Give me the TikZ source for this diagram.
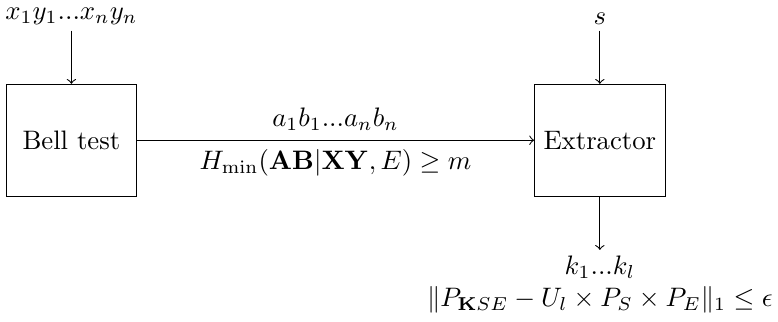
\documentclass[tikz,border=0pt]{standalone}
\usepackage{amsmath,amssymb}
\usetikzlibrary{positioning}
\begin{document}
\begin{tikzpicture}[box/.style={rectangle, draw, minimum width=1.71cm, minimum height=1.47cm}, lbl/.style={inner sep=2pt}, >=to]
        \node[box] (bell) at (0, 0) {Bell test};
        \node[box] (ext) at (6.95, 0) {Extractor};
        \node[lbl, above=0.7cm of bell] (xy) {$x_1y_1...x_ny_n$};
        \node[lbl, above=0.7cm of ext] (seed) {$s$};
        \node[lbl, below=0.7cm of ext, align=center] (key) {$k_1...k_l$\\$\|P_{\mathbf{K}SE}-U_l\times P_S\times P_E\|_1\leq\epsilon$};
        \draw[->] (xy) -- (bell);
        \draw[->] (seed) -- (ext);
        \draw[->] (bell) -- node[above] {$a_1b_1...a_nb_n$} node[below] {$H_{\min}(\mathbf{AB}|\mathbf{XY},E)\geq m$} (ext);
        \draw[->] (ext) -- (key);
        \path ([yshift=1pt]current bounding box.north west) rectangle ([yshift=-1pt]current bounding box.south east);
    \end{tikzpicture}
\end{document}
